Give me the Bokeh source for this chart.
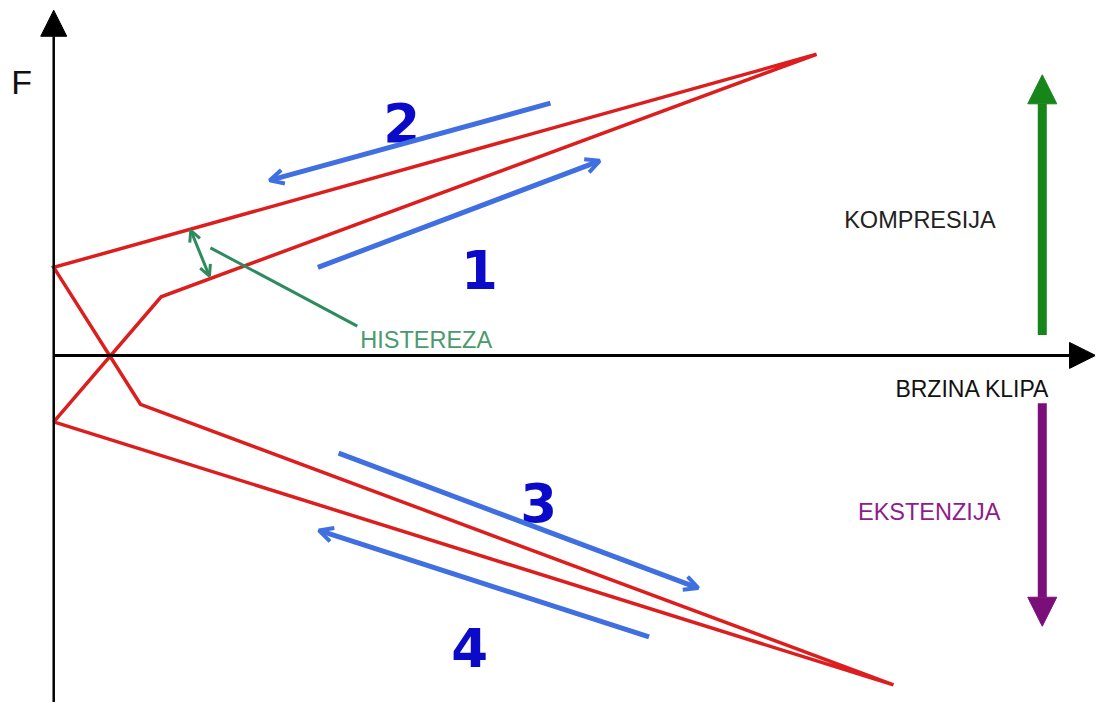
from bokeh.plotting import figure
from bokeh.models import Range1d, Arrow, NormalHead, OpenHead, ColumnDataSource, Label
from bokeh.core.properties import value
from bokeh.embed import file_html
from bokeh.resources import INLINE

# hysteresis loop (velocity v, force F), closed path
loop_v = [0, 109, 774, 0, 88, 852, 0]
loop_f = [-68, 60, 308, 90, -50, -337, -68]

# direction arrows 1..4 (start -> end)
dir_v0 = [268, 504, 289, 604]
dir_f0 = [90, 258, -100, -288]
dir_v1 = [554, 219, 654, 269]
dir_f1 = [199, 179, -238, -179]

# phase numbers
phase_labels = ["1", "2", "3", "4"]
phase_v = [432, 353, 492, 422]
phase_f = [88, 238, -150, -299]

# hysteresis marker
hyst_v = [139, 158]
hyst_f = [128, 81]
leader_v = [159, 308]
leader_f = [110, 30]

# axes
yaxis_v = [0, 0]
yaxis_f = [-360, 353]
xaxis_v = [0, 1057]
xaxis_f = [0, 0]

# compression / extension arrows
comp_v = [1003, 1003]
comp_f = [21, 287]
ext_v = [1003, 1003]
ext_f = [-49, -277]

FONT = "Liberation Sans"

p = figure(width=1095, height=702, x_range=Range1d(-54, 1057), y_range=Range1d(-355, 363),
           output_backend="svg", toolbar_location=None, min_border=0,
           x_axis_location=None, y_axis_location=None)
p.grid.visible = False
p.outline_line_color = None
p.background_fill_color = "white"

# axes with arrowheads
p.add_layout(Arrow(end=NormalHead(size=26, fill_color="black", line_color="black", line_width=1),
                   x_start=yaxis_v[0], y_start=yaxis_f[0], x_end=yaxis_v[1], y_end=yaxis_f[1],
                   line_color="black", line_width=2.5))
p.add_layout(Arrow(end=NormalHead(size=26, fill_color="black", line_color="black", line_width=1),
                   x_start=xaxis_v[0], y_start=xaxis_f[0], x_end=xaxis_v[1], y_end=xaxis_f[1],
                   line_color="black", line_width=3))

# red loop
p.line(loop_v, loop_f, line_color="#dc1e1e", line_width=3.5, line_join="miter")

# blue direction arrows
src = ColumnDataSource(dict(x0=dir_v0, y0=dir_f0, x1=dir_v1, y1=dir_f1))
p.add_layout(Arrow(end=OpenHead(size=14, line_color="#3f6fe0", line_width=4),
                   source=src, x_start="x0", y_start="y0", x_end="x1", y_end="y1",
                   line_color="#3f6fe0", line_width=5))

# phase numbers
p.text(phase_v, phase_f, text=phase_labels, text_font=value("DejaVu Sans"),
       text_font_style="bold", text_font_size="53px", text_color="#0a0ac8",
       text_align="center", text_baseline="alphabetic")

# hysteresis double arrow + leader
p.add_layout(Arrow(start=OpenHead(size=11, line_color="#2e8b5e", line_width=3),
                   end=OpenHead(size=11, line_color="#2e8b5e", line_width=3),
                   x_start=hyst_v[0], y_start=hyst_f[0], x_end=hyst_v[1], y_end=hyst_f[1],
                   line_color="#2e8b5e", line_width=3))
p.line(leader_v, leader_f, line_color="#2e8b5e", line_width=3)

# compression / extension arrows
p.add_layout(Arrow(end=NormalHead(size=29, fill_color="#16861a", line_color="#16861a", line_width=1),
                   x_start=comp_v[0], y_start=comp_f[0], x_end=comp_v[1], y_end=comp_f[1],
                   line_color="#16861a", line_width=9))
p.add_layout(Arrow(end=NormalHead(size=29, fill_color="#7a0f7a", line_color="#7a0f7a", line_width=1),
                   x_start=ext_v[0], y_start=ext_f[0], x_end=ext_v[1], y_end=ext_f[1],
                   line_color="#7a0f7a", line_width=9))

# texts
def lab(x, y, t, size, color):
    p.add_layout(Label(x=x, y=y, text=t, text_font=FONT, text_font_size=size,
                       text_color=color, text_align="left", text_baseline="alphabetic"))

lab(-43, 280, "F", "34px", "#111111")
lab(311, 16, "HISTEREZA", "23.5px", "#4a9a6e")
lab(802, 138, "KOMPRESIJA", "23.5px", "#222222")
lab(854, -34, "BRZINA KLIPA", "23px", "#111111")
lab(816, -160, "EKSTENZIJA", "23.5px", "#8e1c8e")

open("out.html", "w").write(file_html(p, INLINE))
